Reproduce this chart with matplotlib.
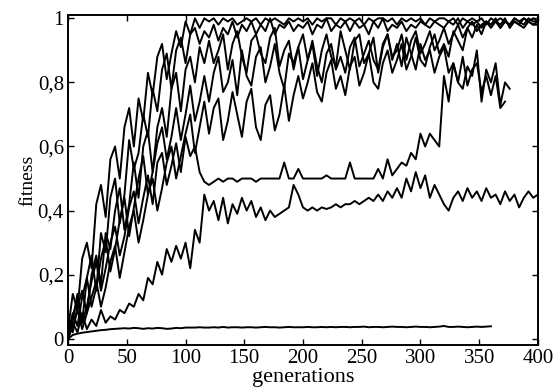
import numpy as np
import matplotlib

matplotlib.use("Agg")

import matplotlib.pyplot as plt

plt.rcParams["font.family"] = ["Liberation Serif", "DejaVu Serif"]

# generations sampled every 4 steps
GENS = list(range(0, 401, 4))

flat_run = [
    0.0, 0.012, 0.016, 0.019, 0.021, 0.023, 0.025, 0.027, 0.028, 0.03,
    0.031, 0.032, 0.033, 0.032, 0.034, 0.033, 0.031, 0.033, 0.032, 0.034,
    0.033, 0.031, 0.032, 0.034, 0.033, 0.035, 0.035, 0.035, 0.036, 0.035,
    0.035, 0.036, 0.035, 0.037, 0.035, 0.036, 0.036, 0.035, 0.036, 0.036,
    0.035, 0.036, 0.037, 0.036, 0.036, 0.035, 0.036, 0.037, 0.036, 0.036,
    0.036, 0.037, 0.036, 0.036, 0.037, 0.036, 0.037, 0.036, 0.037, 0.037,
    0.036, 0.037, 0.037, 0.038, 0.036, 0.037, 0.037, 0.036, 0.037, 0.038,
    0.037, 0.037, 0.036, 0.037, 0.038, 0.037, 0.037, 0.036, 0.037, 0.038,
    0.040, 0.037, 0.037, 0.038, 0.037, 0.036, 0.037, 0.038, 0.037, 0.038,
    0.039,
]

slow_run = [
    0.0, 0.05, 0.02, 0.08, 0.03, 0.06, 0.04, 0.09, 0.05, 0.07,
    0.06, 0.09, 0.08, 0.11, 0.10, 0.14, 0.12, 0.19, 0.17, 0.24,
    0.20, 0.28, 0.24, 0.29, 0.25, 0.30, 0.22, 0.34, 0.30, 0.45,
    0.40, 0.43, 0.37, 0.44, 0.36, 0.42, 0.39, 0.44, 0.40, 0.43,
    0.38, 0.41, 0.37, 0.40, 0.38, 0.39, 0.40, 0.41, 0.48, 0.45,
    0.41, 0.40, 0.41, 0.40, 0.41, 0.405, 0.41, 0.42, 0.41, 0.42,
    0.42, 0.43, 0.42, 0.43, 0.44, 0.43, 0.45, 0.43, 0.46, 0.44,
    0.47, 0.44, 0.50, 0.46, 0.52, 0.47, 0.51, 0.44, 0.48, 0.45,
    0.42, 0.40, 0.44, 0.46, 0.43, 0.47, 0.44, 0.46, 0.43, 0.47,
    0.44, 0.45, 0.42, 0.46, 0.43, 0.45, 0.41, 0.44, 0.46, 0.44,
    0.45,
]

plateau_run = [
    0.02, 0.07, 0.12, 0.05, 0.10, 0.18, 0.24, 0.15, 0.22, 0.30,
    0.35, 0.26, 0.32, 0.41, 0.46, 0.36, 0.44, 0.51, 0.42, 0.55,
    0.58, 0.48, 0.54, 0.61, 0.52, 0.63, 0.57, 0.60, 0.52, 0.49,
    0.48, 0.49, 0.50, 0.49, 0.50, 0.50, 0.49, 0.50, 0.50, 0.50,
    0.49, 0.50, 0.50, 0.50, 0.50, 0.50, 0.55, 0.50, 0.50, 0.53,
    0.50, 0.50, 0.50, 0.50, 0.50, 0.51, 0.50, 0.50, 0.50, 0.50,
    0.55, 0.50, 0.50, 0.50, 0.50, 0.50, 0.53, 0.50, 0.56, 0.51,
    0.53, 0.55, 0.54, 0.58, 0.56, 0.64, 0.60, 0.64, 0.62, 0.60,
    0.82, 0.74, 0.86, 0.80, 0.78, 0.85, 0.82, 0.90, 0.74, 0.84,
    0.80, 0.86, 0.73, 0.80, 0.78,
]

run_a = [
    0.03, 0.14, 0.09, 0.25, 0.30, 0.22, 0.42, 0.48, 0.38, 0.56,
    0.60, 0.50, 0.66, 0.72, 0.60, 0.75, 0.68, 0.83, 0.76, 0.88,
    0.92, 0.81, 0.89, 0.96, 0.91, 0.99, 0.95, 1.0, 0.97, 1.0,
    0.99, 1.0, 0.98, 1.0, 0.99, 1.0, 0.98, 0.99, 1.0, 0.99,
    1.0, 0.98, 1.0, 0.99, 1.0, 0.99, 0.98, 1.0, 0.99, 1.0,
    0.99, 1.0, 0.98, 1.0, 0.99, 1.0, 1.0, 0.98, 1.0, 0.99,
    1.0, 0.99, 1.0, 0.98, 1.0, 0.99, 1.0, 1.0, 0.99, 1.0,
    0.98, 1.0, 0.99, 1.0, 0.99, 1.0, 0.98, 1.0, 0.99, 1.0,
    1.0, 0.99, 1.0, 0.98, 1.0, 0.99, 1.0, 0.99, 1.0, 0.98,
    1.0, 0.99, 1.0, 0.99, 0.98, 1.0, 0.99, 1.0, 0.99, 1.0,
    0.99,
]

run_b = [
    0.0, 0.06, 0.14, 0.05, 0.19, 0.26, 0.15, 0.33, 0.27, 0.44,
    0.50, 0.36, 0.45, 0.62, 0.53, 0.58, 0.70, 0.63, 0.78, 0.71,
    0.84, 0.89, 0.78, 0.90, 0.94, 0.86, 0.95, 0.97, 0.92, 0.96,
    0.94, 0.98, 0.93, 0.97, 0.95, 0.99, 0.94, 0.98, 0.96, 0.99,
    0.95, 0.98, 0.96, 1.0, 0.95, 0.98, 0.97, 0.99, 0.96, 0.98,
    0.97, 0.99, 0.95, 0.98, 0.97, 1.0, 0.96, 0.98, 0.97, 0.99,
    0.96, 0.99, 0.97, 0.98, 0.95, 0.99, 0.97, 1.0, 0.96, 0.98,
    0.97, 0.99, 0.96, 0.98, 0.97, 0.99, 0.98, 0.97, 0.99, 0.98,
    0.97, 0.99, 0.98, 1.0, 0.97, 0.99, 0.98, 0.99, 0.97, 0.99,
    0.98, 0.99, 0.97, 0.99, 0.98, 0.99, 0.98, 0.97, 0.99, 0.98,
    0.98,
]

run_c = [
    0.05, 0.02, 0.10, 0.15, 0.08, 0.20, 0.26, 0.17, 0.33, 0.28,
    0.40, 0.47, 0.34, 0.42, 0.55, 0.44, 0.60, 0.65, 0.52, 0.66,
    0.72, 0.63, 0.78, 0.83, 0.71, 0.84, 0.88, 0.80, 0.91, 0.86,
    0.93, 0.86, 0.90, 0.95, 0.84, 0.92, 0.96, 0.88, 0.83, 0.93,
    0.95, 0.89, 0.86, 0.94, 0.97, 0.85, 0.90, 0.93, 0.84, 0.91,
    0.95, 0.87, 0.92, 0.82, 0.90, 0.95, 0.88, 0.85, 0.96, 0.90,
    0.84, 0.93, 0.95, 0.86, 0.89, 0.94, 0.83, 0.91, 0.95, 0.87,
    0.92, 0.85, 0.94, 0.89, 0.84, 0.92, 0.87, 0.90, 0.83, 0.88,
    0.91, 0.83, 0.86, 0.80, 0.88, 0.79, 0.84, 0.86, 0.77, 0.82,
    0.76, 0.82, 0.72, 0.74,
]

run_d = [
    0.02, 0.08, 0.04, 0.13, 0.19, 0.10, 0.16, 0.25, 0.31, 0.21,
    0.28, 0.37, 0.44, 0.32, 0.41, 0.50, 0.57, 0.45, 0.52, 0.61,
    0.66, 0.56, 0.63, 0.72, 0.62, 0.70, 0.79, 0.68, 0.74, 0.82,
    0.74, 0.83, 0.88, 0.77, 0.80, 0.87, 0.76, 0.90, 0.82, 0.79,
    0.88, 0.91, 0.80, 0.85, 0.92, 0.83, 0.78, 0.89, 0.86, 0.91,
    0.81, 0.87, 0.93, 0.85, 0.80, 0.89, 0.92, 0.84, 0.88, 0.83,
    0.91, 0.94, 0.85, 0.89, 0.93, 0.87, 0.84, 0.92, 0.95, 0.88,
    0.90, 0.95, 0.87, 0.93, 0.96, 0.89, 0.92, 0.96, 0.90, 0.93,
    0.97, 0.92, 0.95, 0.98, 0.94, 0.97, 0.99, 0.96, 0.98, 0.99,
    0.98, 1.0, 0.97, 0.99, 0.98, 1.0, 0.99, 0.98, 1.0, 0.99,
    0.99,
]

run_e = [
    0.0, 0.04, 0.09, 0.03, 0.08, 0.13, 0.18, 0.10, 0.16, 0.24,
    0.29, 0.19, 0.27, 0.35, 0.40, 0.30, 0.37, 0.45, 0.50, 0.40,
    0.47, 0.55, 0.60, 0.50, 0.57, 0.64, 0.70, 0.58, 0.66, 0.74,
    0.64, 0.72, 0.75, 0.62, 0.68, 0.77, 0.70, 0.63, 0.74, 0.78,
    0.66, 0.62, 0.73, 0.76, 0.65, 0.70, 0.79, 0.68, 0.76, 0.82,
    0.75, 0.80, 0.86, 0.77, 0.74, 0.83, 0.87, 0.78, 0.82, 0.76,
    0.85, 0.88, 0.79, 0.83, 0.89, 0.80, 0.78, 0.86, 0.90, 0.83,
    0.87, 0.92, 0.84, 0.88, 0.94, 0.87, 0.85, 0.91, 0.95, 0.89,
    0.92, 0.88, 0.96, 0.93, 0.90, 0.97, 0.94, 0.98, 0.95, 0.99,
    0.97, 0.99, 0.98, 1.0, 0.97, 0.99, 0.98, 1.0, 0.99, 0.98,
    0.99,
]

runs = [run_a, run_b, run_c, run_d, run_e, plateau_run, slow_run, flat_run]

YTICKS = [0, 0.2, 0.4, 0.6, 0.8, 1]
YTICK_LABELS = ["0", "0,2", "0,4", "0,6", "0,8", "1"]
XTICKS = [0, 50, 100, 150, 200, 250, 300, 350, 400]

fig = plt.figure(figsize=(5.58, 3.87), dpi=100)
ax = fig.add_axes([0.122, 0.108, 0.842, 0.853])

for run in runs:
    n = min(len(run), len(GENS))
    ax.plot(GENS[:n], run[:n], color="black", linewidth=1.4)

ax.set_xlim(0, 400)
ax.set_ylim(-0.02, 1.01)
ax.set_xticks(XTICKS)
ax.set_xticklabels([str(t) for t in XTICKS])
ax.set_yticks(YTICKS)
ax.set_yticklabels(YTICK_LABELS)
ax.tick_params(direction="in", top=True, right=True, length=4, width=1,
               labelsize=15, pad=3)
for spine in ax.spines.values():
    spine.set_linewidth(1.4)

ax.set_xlabel("generations", fontsize=16, labelpad=0)
ax.set_ylabel("fitness", fontsize=14, labelpad=1)

fig.savefig("out.png", dpi=100, facecolor="white")
